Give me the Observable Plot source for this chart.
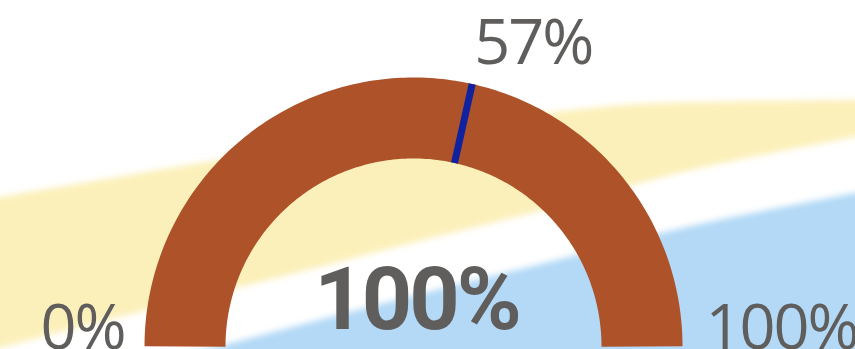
<!DOCTYPE html>
<html><head><meta charset="utf-8">
<script src="https://cdn.jsdelivr.net/npm/d3@7"></script>
<script src="https://cdn.jsdelivr.net/npm/@observablehq/plot@0.6"></script>
<style>
html,body{margin:0;padding:0;background:#fff;overflow:hidden;}
#chart{width:855px;height:349px;overflow:hidden;position:relative;}
#chart svg{overflow:hidden;}
.bg{filter:blur(3px);}
.callout text{letter-spacing:-3px;}
.lbl text{letter-spacing:-2px;}
</style></head><body><div id="chart"></div>
<script>
// Gauge data
const gaugeMin = 0;
const gaugeMax = 100;
const gaugeValue = 100;   // filled value (callout)
const gaugeTarget = 57;   // target marker
const minLabel = "0%";
const maxLabel = "100%";
const targetLabel = "57%";
const calloutLabel = "100%";

// Decorative background bands (pixel space)
const bgX        = [-30, 0, 100, 200, 300, 400, 500, 600, 700, 855, 885];
const yellowTop  = [203, 197, 180, 163, 148, 133, 119, 107, 102, 100, 100];
const yellowBot  = [358, 348, 322, 297, 272, 246, 221, 195, 168, 137, 131];
const blueTop    = [412, 405, 377, 351, 325, 299, 274, 249, 224, 193, 187];

const W = 855, H = 349;
const cx = 413, cy = 346, rOut = 269, rIn = 188;
const rMid = (rOut + rIn) / 2, thick = rOut - rIn;
const angle = d3.scaleLinear([gaugeMin, gaugeMax], [Math.PI, 0]);
const pt = (v, r) => ({x: cx + r * Math.cos(angle(v)), y: cy - r * Math.sin(angle(v))});

const arcPts = d3.range(0, 201).map(i => pt(gaugeMin + (gaugeValue - gaugeMin) * i / 200, rMid));
const tIn = pt(gaugeTarget, rIn), tOut = pt(gaugeTarget, rOut);

const bands = bgX.map((x, i) => ({x, yt: yellowTop[i], yb: yellowBot[i], bt: blueTop[i], bb: 420}));

const textColor = "#605E5C";
const lightFont = "'Segoe UI','Open Sans',sans-serif";
const lblOpts = {x: "x", y: "y", text: "t", lineAnchor: "bottom", fontSize: 63, fontWeight: 400, fontFamily: lightFont, fill: textColor, className: "lbl"};

const chart = Plot.plot({
  width: W, height: H,
  margin: 0,
  x: {domain: [0, W], range: [0, W], axis: null},
  y: {domain: [0, H], range: [0, H], axis: null},
  style: {background: "transparent", overflow: "hidden"},
  marks: [
    Plot.areaY(bands, {x: "x", y1: "yt", y2: "yb", fill: "#FCF0BA", curve: "natural", className: "bg"}),
    Plot.areaY(bands, {x: "x", y1: "bt", y2: "bb", fill: "#B3D9F6", curve: "natural", className: "bg"}),
    Plot.line(arcPts, {x: "x", y: "y", stroke: "#AD5229", strokeWidth: thick, strokeLinecap: "butt", strokeLinejoin: "round"}),
    Plot.link([{x1: tIn.x, y1: tIn.y, x2: tOut.x, y2: tOut.y}], {x1: "x1", y1: "y1", x2: "x2", y2: "y2", stroke: "#1122A0", strokeWidth: 7}),
    Plot.text([{x: cx - rOut - 20, y: 348, t: minLabel}], {...lblOpts, textAnchor: "end"}),
    Plot.text([{x: cx + rOut + 23, y: 348, t: maxLabel}], {...lblOpts, textAnchor: "start"}),
    Plot.text([{x: tOut.x + 2, y: tOut.y - 20, t: targetLabel}], {...lblOpts, textAnchor: "start"}),
    Plot.text([{x: cx + 3, y: 328, t: calloutLabel}], {x: "x", y: "y", text: "t", textAnchor: "middle", lineAnchor: "bottom", fontSize: 88, fontWeight: 700, fontFamily: "'Roboto',sans-serif", fill: textColor, className: "callout"})
  ]
});
document.getElementById("chart").appendChild(chart);
</script></body></html>
